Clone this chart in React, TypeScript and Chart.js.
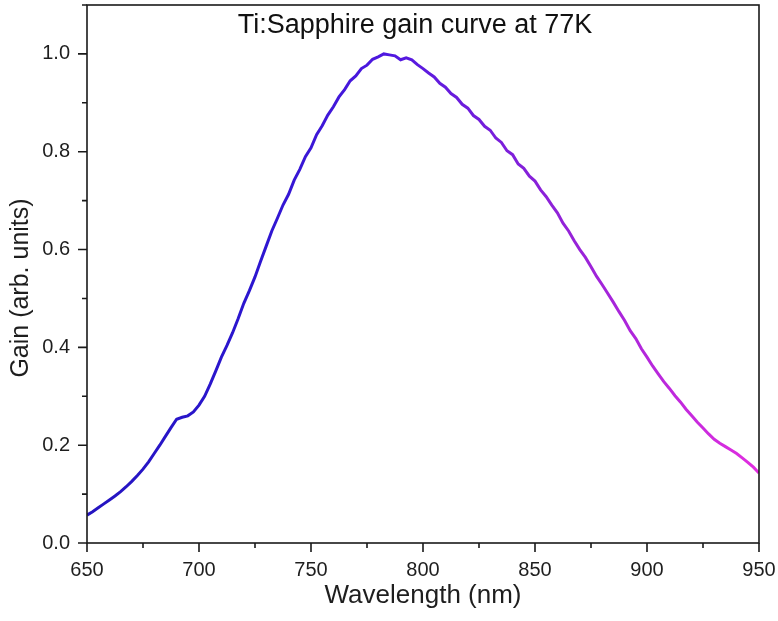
import { useEffect, useRef } from 'react';
import { Chart, registerables } from 'chart.js';

Chart.register(...registerables);

const TITLE = 'Ti:Sapphire gain curve at 77K';
const X_LABEL = 'Wavelength (nm)';
const Y_LABEL = 'Gain (arb. units)';

const wavelength = [
  650, 652.5, 655, 657.5, 660, 662.5, 665, 667.5, 670, 672.5,
  675, 677.5, 680, 682.5, 685, 687.5, 690, 692.5, 695, 697.5,
  700, 702.5, 705, 707.5, 710, 712.5, 715, 717.5, 720, 722.5,
  725, 727.5, 730, 732.5, 735, 737.5, 740, 742.5, 745, 747.5,
  750, 752.5, 755, 757.5, 760, 762.5, 765, 767.5, 770, 772.5,
  775, 777.5, 780, 782.5, 785, 787.5, 790, 792.5, 795, 797.5,
  800, 802.5, 805, 807.5, 810, 812.5, 815, 817.5, 820, 822.5,
  825, 827.5, 830, 832.5, 835, 837.5, 840, 842.5, 845, 847.5,
  850, 852.5, 855, 857.5, 860, 862.5, 865, 867.5, 870, 872.5,
  875, 877.5, 880, 882.5, 885, 887.5, 890, 892.5, 895, 897.5,
  900, 902.5, 905, 907.5, 910, 912.5, 915, 917.5, 920, 922.5,
  925, 927.5, 930, 932.5, 935, 937.5, 940, 942.5, 945, 947.5,
  950,
];

const gain = [
  0.057, 0.064, 0.072, 0.080, 0.088, 0.096, 0.105, 0.115, 0.126, 0.138,
  0.151, 0.166, 0.183, 0.200, 0.218, 0.236, 0.253, 0.257, 0.260, 0.268,
  0.282, 0.300, 0.325, 0.352, 0.380, 0.404, 0.430, 0.459, 0.490, 0.516,
  0.544, 0.576, 0.607, 0.638, 0.664, 0.691, 0.713, 0.742, 0.764, 0.790,
  0.808, 0.835, 0.853, 0.875, 0.892, 0.912, 0.927, 0.945, 0.955, 0.970,
  0.977, 0.989, 0.994, 1.000, 0.998, 0.996, 0.988, 0.992, 0.988, 0.978,
  0.970, 0.961, 0.953, 0.940, 0.932, 0.919, 0.911, 0.897, 0.889, 0.874,
  0.866, 0.852, 0.844, 0.828, 0.819, 0.802, 0.794, 0.775, 0.766, 0.750,
  0.740, 0.722, 0.708, 0.691, 0.675, 0.654, 0.638, 0.618, 0.600, 0.584,
  0.565, 0.545, 0.528, 0.510, 0.492, 0.473, 0.455, 0.434, 0.418, 0.397,
  0.380, 0.362, 0.346, 0.330, 0.316, 0.301, 0.288, 0.273, 0.260, 0.247,
  0.235, 0.223, 0.212, 0.204, 0.197, 0.190, 0.183, 0.174, 0.165, 0.155,
  0.143,
];

const X_MIN = 650;
const X_MAX = 950;
const X_MAJOR = 50;
const X_MINOR = 25;
const Y_MIN = 0;
const Y_MAX = 1.1;
const Y_MINOR = 0.1;

const FONT = '"Liberation Sans", Arial, Helvetica, sans-serif';
const TEXT = '#1e1e1e';

const framePlugin = {
  id: 'frameAndTicks',
  afterDraw(chart: any) {
    const { ctx, chartArea } = chart;
    const { left, right, top, bottom } = chartArea;
    const xs = chart.scales.x;
    const ys = chart.scales.y;
    ctx.save();
    ctx.strokeStyle = '#1a1a1a';
    ctx.lineWidth = 1.6;
    ctx.strokeRect(left, top, right - left, bottom - top);
    ctx.beginPath();
    xs.ticks.forEach((t: any) => {
      const px = xs.getPixelForValue(t.value);
      const major = Math.round(t.value) % X_MAJOR === 0;
      const len = major ? 9 : 5;
      ctx.moveTo(px, bottom);
      ctx.lineTo(px, bottom + len);
    });
    ys.ticks.forEach((t: any) => {
      const py = ys.getPixelForValue(t.value);
      const k = Math.round(t.value * 10);
      const major = k % 2 === 0;
      const len = major ? 9 : 5;
      ctx.moveTo(left, py);
      ctx.lineTo(left - len, py);
    });
    ctx.stroke();

    ctx.fillStyle = '#111';
    ctx.font = `27px ${FONT}`;
    ctx.textAlign = 'center';
    ctx.textBaseline = 'alphabetic';
    ctx.fillText(TITLE, (left + right) / 2 - 8, top + 28);

    ctx.translate(21, (top + bottom) / 2 + 14);
    ctx.rotate(-Math.PI / 2);
    ctx.font = `25px ${FONT}`;
    ctx.fillStyle = TEXT;
    ctx.textBaseline = 'middle';
    ctx.fillText(Y_LABEL, 0, 0);
    ctx.restore();
  },
};

function lineGradient(context: any) {
  const chart = context.chart;
  const { ctx, chartArea } = chart;
  if (!chartArea) return '#4020d0';
  const g = ctx.createLinearGradient(chartArea.left, 0, chartArea.right, 0);
  g.addColorStop(0, '#2414c0');
  g.addColorStop(0.25, '#2c16d0');
  g.addColorStop(0.45, '#5018e0');
  g.addColorStop(0.7, '#9022d8');
  g.addColorStop(1, '#e22ee0');
  return g;
}

function zeroPadding(s: any) {
  s.paddingTop = 0;
  s.paddingBottom = 0;
  s.paddingLeft = 0;
  s.paddingRight = 0;
}

export default function App() {
  const ref = useRef<HTMLCanvasElement | null>(null);

  useEffect(() => {
    document.body.style.background = '#ffffff';
    const canvas = ref.current;
    if (!canvas) return;
    const points = wavelength.map((w, i) => ({ x: w, y: gain[i] }));
    const chart = new Chart(canvas, {
      type: 'line',
      data: {
        datasets: [
          {
            data: points,
            borderColor: lineGradient,
            borderWidth: 3,
            pointRadius: 0,
            tension: 0,
            fill: false,
          },
        ],
      },
      options: {
        animation: false,
        responsive: false,
        devicePixelRatio: 1,
        layout: { padding: { top: 5, right: 19, left: 0, bottom: 0 } },
        plugins: {
          legend: { display: false },
          tooltip: { enabled: false },
          title: { display: false },
        },
        scales: {
          x: {
            type: 'linear',
            min: X_MIN,
            max: X_MAX,
            border: { display: false },
            grid: { display: false, drawTicks: false },
            ticks: {
              stepSize: X_MINOR,
              autoSkip: false,
              maxRotation: 0,
              includeBounds: false,
              padding: 15,
              color: TEXT,
              font: { family: FONT, size: 20 },
              callback: (v: any) => (Math.round(v) % X_MAJOR === 0 ? String(v) : ''),
            },
            title: {
              display: true,
              text: X_LABEL,
              color: TEXT,
              font: { family: FONT, size: 26 },
              padding: { top: 4, bottom: 10 },
            },
            afterFit: (s: any) => {
              s.height = 78;
              zeroPadding(s);
            },
          },
          y: {
            type: 'linear',
            min: Y_MIN,
            max: Y_MAX,
            border: { display: false },
            grid: { display: false, drawTicks: false },
            ticks: {
              stepSize: Y_MINOR,
              autoSkip: false,
              includeBounds: false,
              padding: 17,
              color: TEXT,
              font: { family: FONT, size: 20 },
              callback: (v: any) => {
                const k = Math.round(v * 10);
                return k % 2 === 0 && k <= 10 ? (k / 10).toFixed(1) : '';
              },
            },
            afterFit: (s: any) => {
              s.width = 87;
              zeroPadding(s);
            },
          },
        },
      },
      plugins: [framePlugin],
    });
    return () => chart.destroy();
  }, []);

  return (
    <div style={{ position: 'fixed', left: 0, top: 0, width: 778, height: 621, background: '#fff' }}>
      <canvas ref={ref} width={778} height={621} style={{ display: 'block', width: 778, height: 621 }} />
    </div>
  );
}
